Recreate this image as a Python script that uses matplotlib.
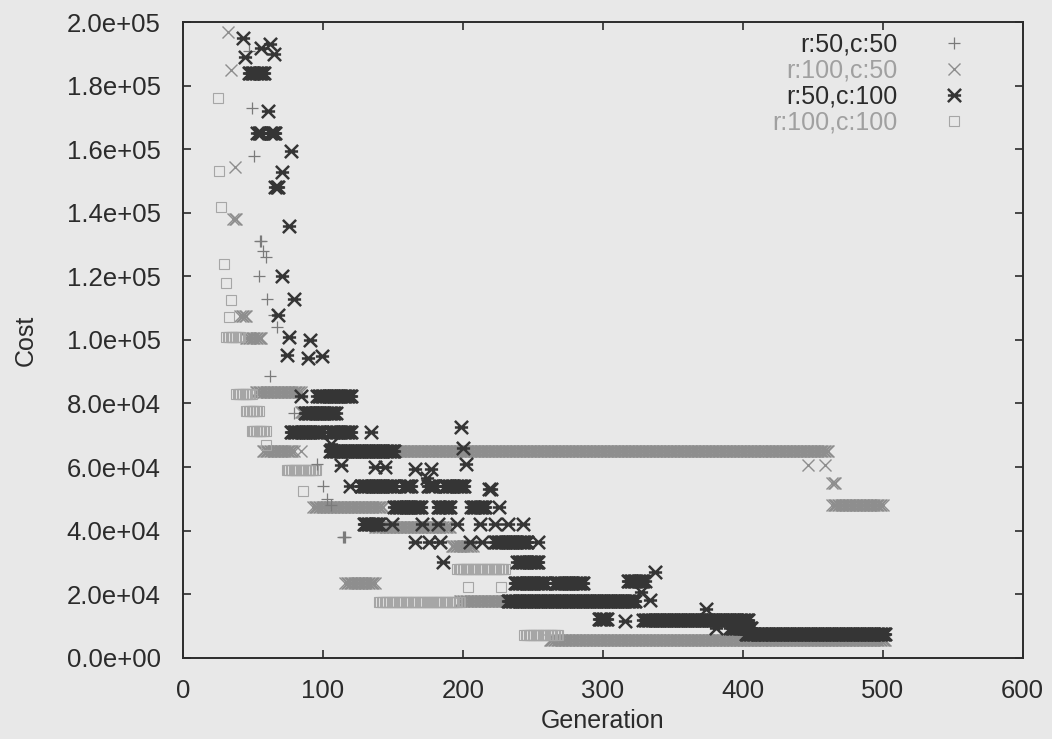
import numpy as np
import matplotlib
matplotlib.use('Agg')
import matplotlib.pyplot as plt
from matplotlib.path import Path

plt.rcParams['font.family'] = ['Liberation Sans', 'DejaVu Sans']

# Cada serie: tramos (generacion inicial, generacion final, coste)
# el coste se mantiene en cada generacion del tramo
r50c50_ini = [47, 49, 51, 55, 57, 59, 54, 60, 65, 67, 62, 79, 96, 100, 103, 106, 114]
r50c50_fin = [47, 49, 51, 56, 57, 59, 54, 60, 65, 67, 62, 79, 96, 100, 103, 106, 116]
r50c50_cos = [191000, 173000, 158000, 131000, 128000, 126000, 120000, 113000, 108000,
              104000, 88500, 77000, 61000, 54000, 50000, 48000, 38000]

r100c50_ini = [32, 34, 37, 36, 41, 45, 52, 84, 57, 84, 105, 447, 459, 464, 464, 93, 137,
               192, 116, 198, 262]
r100c50_fin = [32, 34, 37, 38, 45, 56, 84, 95, 79, 84, 461, 447, 459, 466, 500, 143, 191,
               207, 137, 236, 502]
r100c50_cos = [197000, 185000, 154500, 138000, 107500, 100600, 83700, 77400, 65000, 65000,
               65000, 60500, 60500, 55000, 48000, 47500, 41000, 35000, 23500, 17800, 5500]

r50c100_ini = [43, 44, 56, 62, 65, 47, 61, 53, 62, 77, 71, 66, 76, 71, 79, 68, 76, 91, 74,
               89, 99, 84, 96, 87, 77, 105, 134, 106, 105, 199, 200, 202, 113, 137, 144,
               166, 177, 174, 119, 127, 158, 175, 187, 219, 151, 182, 206, 226, 129, 149,
               171, 182, 196, 212, 223, 232, 243, 166, 176, 184, 205, 214, 223, 254, 186,
               239, 237, 266, 318, 337, 327, 334, 232, 297, 316, 329, 374, 381, 391, 402]
r50c100_fin = [43, 44, 56, 62, 65, 58, 61, 56, 66, 77, 71, 68, 76, 71, 79, 68, 76, 91, 74,
               89, 99, 84, 120, 109, 99, 120, 134, 106, 151, 199, 200, 202, 113, 137, 144,
               166, 177, 174, 119, 151, 163, 180, 201, 220, 170, 191, 216, 226, 140, 149,
               171, 182, 196, 212, 223, 232, 243, 166, 176, 184, 205, 214, 246, 254, 186,
               254, 259, 286, 330, 337, 327, 334, 323, 303, 316, 404, 374, 381, 406, 502]
r50c100_cos = [195000, 189000, 192000, 193000, 190000, 184000, 172000, 165000, 165000,
               159600, 153000, 148000, 136000, 120000, 113000, 108000, 101000, 100000,
               95300, 94400, 95000, 82500, 82500, 77000, 71000, 71000, 71000, 67400, 65000,
               72500, 66000, 61000, 60500, 60000, 60000, 59400, 59400, 56400, 54000, 54000,
               54000, 54000, 54000, 53000, 47500, 47500, 47500, 47500, 42000, 42000, 42000,
               42000, 42000, 42000, 42000, 42000, 42000, 36500, 36500, 36500, 36500, 36500,
               36500, 36500, 30000, 30000, 23500, 23500, 24000, 27000, 20800, 18300, 17700,
               12300, 11700, 12000, 15200, 9200, 9200, 7500]

r100c100_ini = [25, 26, 27, 29, 31, 34, 33, 31, 38, 45, 49, 59, 74, 86, 196, 204, 227, 140,
                244]
r100c100_fin = [25, 26, 27, 29, 31, 34, 33, 41, 49, 54, 59, 59, 95, 86, 230, 204, 227, 198,
                268]
r100c100_cos = [176000, 153300, 141700, 124000, 118000, 112500, 107200, 101000, 83000,
                77700, 71200, 67000, 59000, 52500, 27800, 22400, 22400, 17500, 7000]

etiquetas = ['r:50,c:50', 'r:100,c:50', 'r:50,c:100', 'r:100,c:100']
xticks = [0, 100, 200, 300, 400, 500, 600]
yticks = [0, 20000, 40000, 60000, 80000, 100000, 120000, 140000, 160000, 180000, 200000]


def expandir(ini, fin, cos):
    gen = []
    val = []
    for a, b, c in zip(ini, fin, cos):
        for g in range(a, b + 1):
            gen.append(g)
            val.append(c)
    return np.array(gen), np.array(val)


# marcador "*" de gnuplot: aspa con barra horizontal
asterisco = Path([(-1, -1), (1, 1), (-1, 1), (1, -1), (-1, 0), (1, 0)],
                 [Path.MOVETO, Path.LINETO, Path.MOVETO, Path.LINETO, Path.MOVETO, Path.LINETO])

fondo = '#e8e8e8'
texto = '#2b2b2b'
fs = 18.5
fig = plt.figure(figsize=(10.52, 7.39), dpi=100, facecolor=fondo)
ax = fig.add_axes([0.174, 0.110, 0.798, 0.860], facecolor=fondo)

x1, y1 = expandir(r50c50_ini, r50c50_fin, r50c50_cos)
x2, y2 = expandir(r100c50_ini, r100c50_fin, r100c50_cos)
x3, y3 = expandir(r50c100_ini, r50c100_fin, r50c100_cos)
x4, y4 = expandir(r100c100_ini, r100c100_fin, r100c100_cos)

h2, = ax.plot(x2, y2, ls='none', marker='x', ms=8.5, mew=1.0, color='#8e8e8e', zorder=2)
h4, = ax.plot(x4, y4, ls='none', marker='s', ms=7, mew=0.8, mfc='none', color='#a6a6a6', zorder=2)
h1, = ax.plot(x1, y1, ls='none', marker='+', ms=8, mew=0.9, color='#7a7a7a', zorder=3)
h3, = ax.plot(x3, y3, ls='none', marker=asterisco, ms=9.5, mew=1.8, mfc='none',
              color='#353535', zorder=4)

ax.set_xlim(0, 600)
ax.set_ylim(0, 200000)
ax.set_xticks(xticks)
ax.set_yticks(yticks)
ax.set_yticklabels(['%.1e' % v for v in yticks])
ax.tick_params(direction='in', length=6, width=1.2, top=True, right=True,
               labelsize=fs, labelcolor=texto, color=texto)
ax.tick_params(axis='x', pad=15)
ax.tick_params(axis='y', pad=16)
for s in ax.spines.values():
    s.set_linewidth(1.4)
    s.set_color(texto)

ax.set_xlabel('Generation', fontsize=18, color=texto, labelpad=5)
ax.set_ylabel('Cost', fontsize=18, color=texto, labelpad=21)

leg = ax.legend([h1, h2, h3, h4], etiquetas, loc='upper right', bbox_to_anchor=(0.9476, 0.983),
                markerfirst=False, frameon=False, fontsize=18, borderpad=0, borderaxespad=0,
                handlelength=2.0, handletextpad=1.25, labelspacing=0.08)
colores_leg = [texto, '#a0a0a0', texto, '#a0a0a0']
for t, c in zip(leg.get_texts(), colores_leg):
    t.set_color(c)

fig.savefig('out.png', dpi=100, facecolor=fondo)
